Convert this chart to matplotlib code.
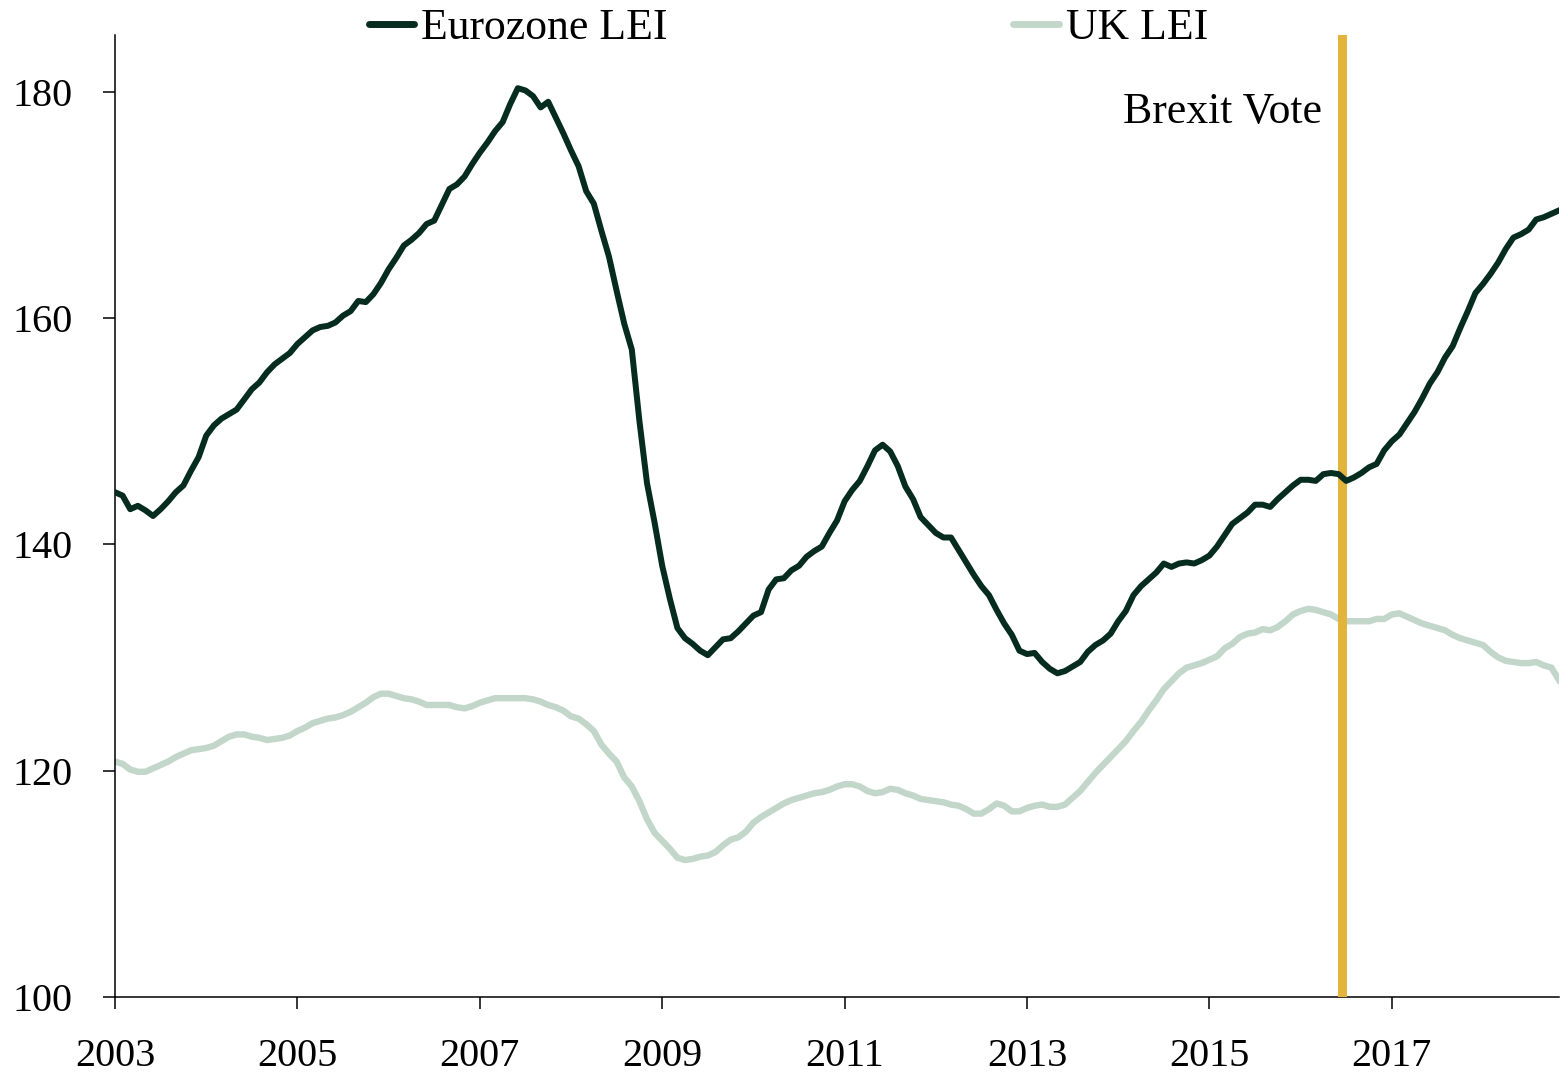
import numpy as np
import matplotlib
matplotlib.use("Agg")
import matplotlib.pyplot as plt

# monthly readings, Jan 2003 .. Nov 2018
start_year = 2003
eurozone_lei = [
    144.6, 144.3, 143.1, 143.4, 143.0, 142.5, 143.1, 143.8, 144.6, 145.2, 146.5, 147.7,
    149.6, 150.5, 151.1, 151.5, 151.9, 152.8, 153.7, 154.3, 155.2, 155.9, 156.4, 156.9,
    157.7, 158.3, 158.9, 159.2, 159.3, 159.6, 160.2, 160.6, 161.5, 161.4, 162.1, 163.1,
    164.3, 165.3, 166.4, 166.9, 167.5, 168.3, 168.6, 170.0, 171.4, 171.8, 172.5, 173.6,
    174.6, 175.5, 176.5, 177.3, 178.9, 180.3, 180.1, 179.6, 178.6, 179.1, 177.7, 176.3,
    174.8, 173.4, 171.2, 170.1, 167.7, 165.4, 162.4, 159.5, 157.2, 150.9, 145.4, 141.9,
    138.1, 135.2, 132.6, 131.7, 131.2, 130.6, 130.2, 130.9, 131.6, 131.7, 132.3, 133.0,
    133.7, 134.0, 136.0, 136.9, 137.0, 137.7, 138.1, 138.9, 139.4, 139.8, 141.0, 142.1,
    143.8, 144.8, 145.6, 146.9, 148.3, 148.8, 148.2, 146.9, 145.1, 144.0, 142.4, 141.7,
    141.0, 140.6, 140.6, 139.5, 138.4, 137.3, 136.3, 135.5, 134.2, 133.0, 132.0, 130.6,
    130.3, 130.4, 129.6, 129.0, 128.6, 128.8, 129.2, 129.6, 130.5, 131.1, 131.5, 132.1,
    133.2, 134.1, 135.5, 136.3, 136.9, 137.5, 138.3, 138.0, 138.3, 138.4, 138.3, 138.6,
    139.0, 139.8, 140.8, 141.8, 142.3, 142.8, 143.5, 143.5, 143.3, 144.0, 144.6, 145.2,
    145.7, 145.7, 145.6, 146.2, 146.3, 146.2, 145.6, 145.9, 146.3, 146.8, 147.1, 148.3,
    149.1, 149.7, 150.7, 151.7, 152.9, 154.2, 155.2, 156.5, 157.5, 159.1, 160.6, 162.2,
    163.0, 163.9, 164.9, 166.1, 167.1, 167.4, 167.8, 168.7, 168.9, 169.2, 169.5,
]
uk_lei = [
    120.8, 120.6, 120.1, 119.9, 119.9, 120.2, 120.5, 120.8, 121.2, 121.5, 121.8, 121.9,
    122.0, 122.2, 122.6, 123.0, 123.2, 123.2, 123.0, 122.9, 122.7, 122.8, 122.9, 123.1,
    123.5, 123.8, 124.2, 124.4, 124.6, 124.7, 124.9, 125.2, 125.6, 126.0, 126.5, 126.8,
    126.8, 126.6, 126.4, 126.3, 126.1, 125.8, 125.8, 125.8, 125.8, 125.6, 125.5, 125.7,
    126.0, 126.2, 126.4, 126.4, 126.4, 126.4, 126.4, 126.3, 126.1, 125.8, 125.6, 125.3,
    124.8, 124.6, 124.1, 123.5, 122.3, 121.5, 120.8, 119.4, 118.6, 117.3, 115.7, 114.5,
    113.8, 113.1, 112.3, 112.1, 112.2, 112.4, 112.5, 112.8, 113.4, 113.9, 114.1, 114.6,
    115.4, 115.9, 116.3, 116.7, 117.1, 117.4, 117.6, 117.8, 118.0, 118.1, 118.3, 118.6,
    118.8, 118.8, 118.6, 118.2, 118.0, 118.1, 118.4, 118.3, 118.0, 117.8, 117.5, 117.4,
    117.3, 117.2, 117.0, 116.9, 116.6, 116.2, 116.2, 116.6, 117.1, 116.9, 116.4, 116.4,
    116.7, 116.9, 117.0, 116.8, 116.8, 117.0, 117.6, 118.2, 119.0, 119.8, 120.5, 121.2,
    121.9, 122.6, 123.5, 124.3, 125.3, 126.2, 127.2, 127.9, 128.6, 129.1, 129.3, 129.5,
    129.8, 130.1, 130.8, 131.2, 131.8, 132.1, 132.2, 132.5, 132.4, 132.7, 133.2, 133.8,
    134.1, 134.3, 134.2, 134.0, 133.8, 133.4, 133.2, 133.2, 133.2, 133.2, 133.4, 133.4,
    133.8, 133.9, 133.6, 133.3, 133.0, 132.8, 132.6, 132.4, 132.0, 131.7, 131.5, 131.3,
    131.1, 130.5, 130.0, 129.7, 129.6, 129.5, 129.5, 129.6, 129.3, 129.1, 128.0,
]
brexit_date = 2016 + 5.5 / 12  # June 2016
year_ticks = [2003, 2005, 2007, 2009, 2011, 2013, 2015, 2017]
y_ticks = [100, 120, 140, 160, 180]

plt.rcParams['font.family'] = ['Liberation Serif', 'DejaVu Serif']

months = start_year + np.arange(len(eurozone_lei)) / 12.0

fig = plt.figure(figsize=(15.67, 10.77), dpi=100)
ax = fig.add_axes([0.0734, 0.0743, 0.9215, 0.8932])

ax.plot(months, uk_lei, color='#c2d7c9', lw=4.6, label='UK LEI', zorder=2)
ax.axvline(brexit_date, color='#e2b43c', lw=6.5, zorder=3)
ax.plot(months, eurozone_lei, color='#062b1f', lw=4.3, label='Eurozone LEI', zorder=4)

ax.text(brexit_date - 0.22, 178.2, 'Brexit Vote', ha='right', va='center', fontsize=31.5)

ax.set_xlim(months[0], months[-1])
ax.set_ylim(100, 185)
ax.set_xticks(year_ticks)
ax.set_xticklabels([str(y) for y in year_ticks])
ax.set_yticks(y_ticks)

for s in ['top', 'right']:
    ax.spines[s].set_visible(False)
for s in ['left', 'bottom']:
    ax.spines[s].set_linewidth(1.1)

ax.tick_params(axis='both', direction='out', length=8.5, width=1.1, labelsize=29)
ax.tick_params(axis='x', pad=21)
ax.tick_params(axis='y', pad=22)

# legend in reverse plotting order: Eurozone first
handles, labels = ax.get_legend_handles_labels()
leg = ax.legend(handles[::-1], labels[::-1], ncol=2, loc='center',
                bbox_to_anchor=(0.503, 0.974), bbox_transform=fig.transFigure,
                frameon=False, fontsize=31.5, handlelength=1.05, handletextpad=0.15,
                columnspacing=7.9, borderpad=0.1)
for line in leg.get_lines():
    line.set_linewidth(5)
    line.set_solid_capstyle('round')

fig.savefig('out.png', dpi=100)
